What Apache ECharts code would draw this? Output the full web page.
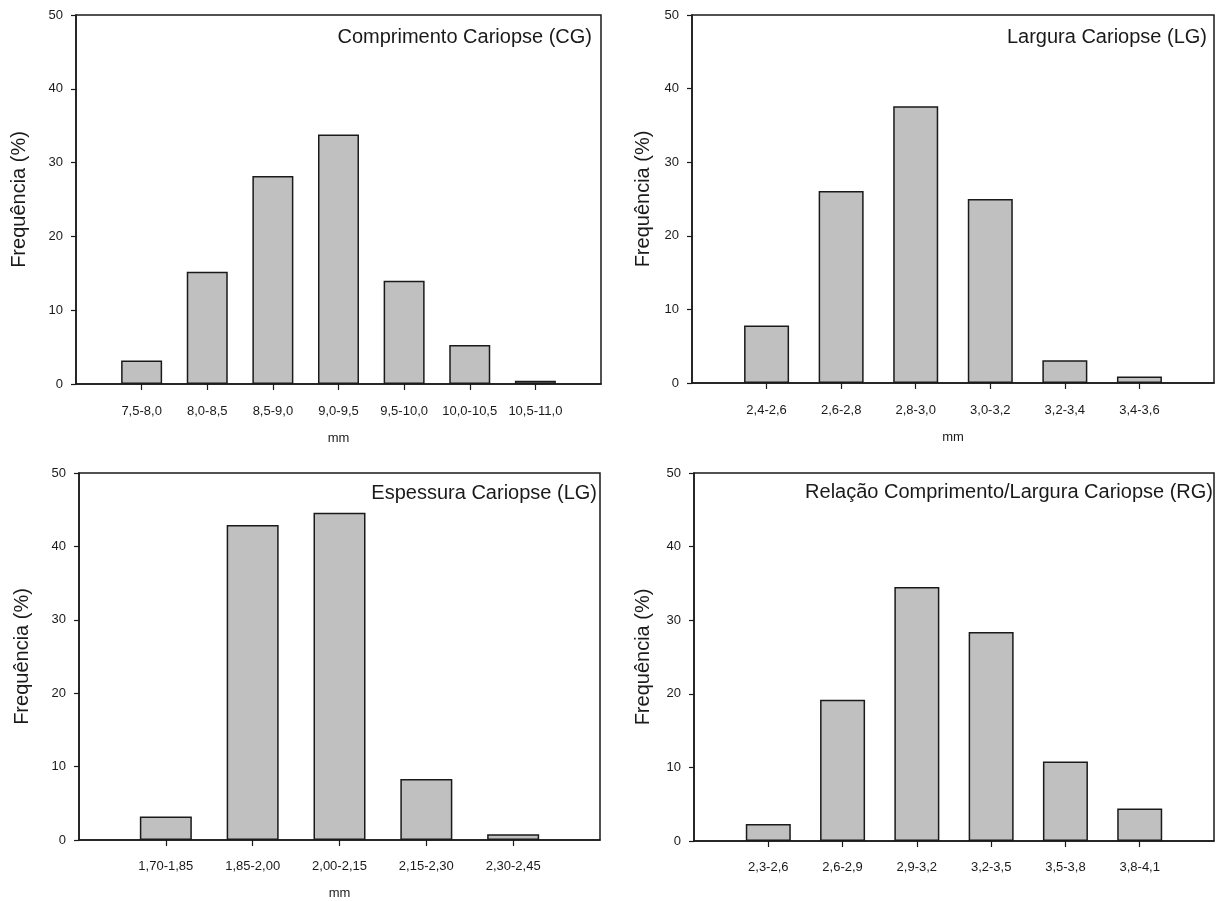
<!DOCTYPE html>
<html>
<head>
<meta charset="utf-8">
<script src="https://cdn.jsdelivr.net/npm/echarts@6/dist/echarts.min.js"></script>
<style>
html,body{margin:0;padding:0;background:#fff;}
#chart{width:1221px;height:901px;}
</style>
</head>
<body>
<div id="chart"></div>
<script>
// ---- data ----
const catCG = ['7,5-8,0', '8,0-8,5', '8,5-9,0', '9,0-9,5', '9,5-10,0', '10,0-10,5', '10,5-11,0'];
const valCG = [3.2, 15.2, 28.2, 33.8, 14.0, 5.3, 0.45];

const catLG = ['2,4-2,6', '2,6-2,8', '2,8-3,0', '3,0-3,2', '3,2-3,4', '3,4-3,6'];
const valLG = [7.8, 26.1, 37.6, 25.0, 3.1, 0.9];

const catEG = ['1,70-1,85', '1,85-2,00', '2,00-2,15', '2,15-2,30', '2,30-2,45'];
const valEG = [3.2, 42.9, 44.6, 8.3, 0.8];

const catRG = ['2,3-2,6', '2,6-2,9', '2,9-3,2', '3,2-3,5', '3,5-3,8', '3,8-4,1'];
const valRG = [2.3, 19.2, 34.5, 28.4, 10.8, 4.4];

const panelTitles = ['Comprimento Cariopse (CG)', 'Largura Cariopse (LG)', 'Espessura Cariopse (LG)', 'Relação Comprimento/Largura Cariopse (RG)'];
const xNames = ['mm', 'mm', 'mm', ''];
const yName = 'Frequência (%)';
const yMin = 0, yMax = 50, yStep = 10;

// ---- layout ----
const FONT = "'Liberation Sans', Arial, sans-serif";
const INK = '#1a1a1a';
const panels = [
  { cats: catCG, vals: valCG, grid: { left: 76, top: 15, width: 525, height: 369 }, barW: 41, title: { right: 629, top: 27 }, yGap: 47, xGap: 48, lblMargin: 21 },
  { cats: catLG, vals: valLG, grid: { left: 692, top: 15, width: 522, height: 368 }, barW: 45, title: { right: 14, top: 27 }, yGap: 39, xGap: 48, lblMargin: 21 },
  { cats: catEG, vals: valEG, grid: { left: 79, top: 473, width: 521, height: 368 }, barW: 52, title: { right: 624, top: 483 }, yGap: 47, xGap: 47, lblMargin: 20 },
  { cats: catRG, vals: valRG, grid: { left: 694, top: 473, width: 520, height: 368 }, barW: 45, title: { right: 8, top: 482 }, yGap: 41, xGap: 47, lblMargin: 20 }
];

const option = {
  backgroundColor: '#fff',
  animation: false,
  title: [], grid: [], xAxis: [], yAxis: [], series: []
};

panels.forEach((p, i) => {
  const n = p.cats.length;
  option.title.push({
    text: panelTitles[i], right: p.title.right, top: p.title.top, padding: 0,
    textStyle: { fontFamily: FONT, fontSize: 20, fontWeight: 'normal', color: INK }
  });
  option.grid.push(Object.assign({ show: true, borderColor: INK, borderWidth: 1.5, backgroundColor: 'transparent', containLabel: false }, p.grid));
  option.xAxis.push({
    type: 'category', gridIndex: i, boundaryGap: false,
    data: [''].concat(p.cats, ['']),
    name: xNames[i], nameLocation: 'middle', nameGap: p.xGap,
    nameTextStyle: { fontFamily: FONT, fontSize: 13, color: INK },
    axisLine: { show: true, lineStyle: { color: INK, width: 1.5 } },
    axisTick: { show: true, length: 6, lineStyle: { color: INK, width: 1.2 },
      interval: (idx) => idx > 0 && idx <= n },
    axisLabel: { interval: 0, margin: p.lblMargin, fontFamily: FONT, fontSize: 13, color: INK },
    splitLine: { show: false }
  });
  option.yAxis.push({
    type: 'value', gridIndex: i, min: yMin, max: yMax, interval: yStep,
    name: yName, nameLocation: 'middle', nameGap: p.yGap, nameRotate: 90,
    nameTextStyle: { fontFamily: FONT, fontSize: 20, color: INK },
    axisLine: { show: true, lineStyle: { color: INK, width: 1.5 } },
    axisTick: { show: true, length: 5, lineStyle: { color: INK, width: 1.2 } },
    axisLabel: { margin: 13, fontFamily: FONT, fontSize: 13, color: INK },
    splitLine: { show: false }
  });
  option.series.push({
    type: 'bar', xAxisIndex: i, yAxisIndex: i, barWidth: p.barW,
    data: ['-'].concat(p.vals, ['-']),
    itemStyle: { color: '#c0c0c0', borderColor: INK, borderWidth: 1.5 },
    emphasis: { disabled: true }
  });
});

const chart = echarts.init(document.getElementById('chart'), null, { renderer: 'canvas' });
chart.setOption(option);
</script>
</body>
</html>
